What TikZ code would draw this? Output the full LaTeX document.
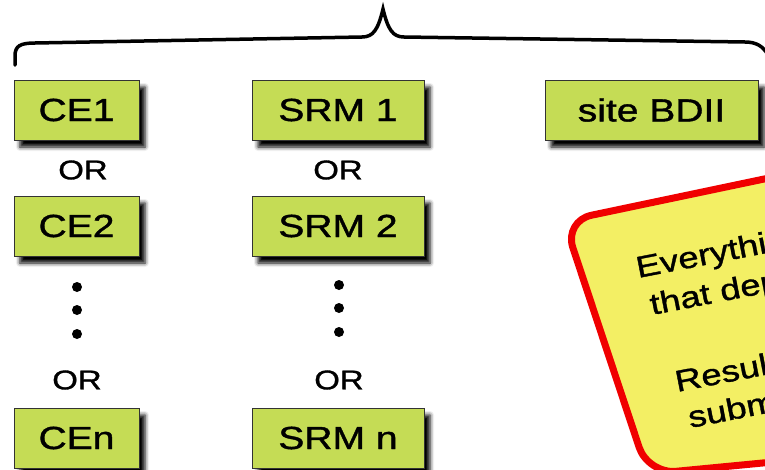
\documentclass[tikz,border=0pt]{standalone}
\usepackage{fontspec}
\setmainfont{Liberation Sans}[FakeStretch=1.22, FakeBold=1.2]
\usetikzlibrary{shadows.blur}

\definecolor{boxgreen}{RGB}{197,220,85}
\definecolor{noteyellow}{RGB}{243,239,100}
\definecolor{notered}{RGB}{240,0,0}

\tikzset{
  sitebox/.style={draw=black!80, line width=1pt, fill=boxgreen, minimum height=60pt, inner sep=0pt,
    font=\fontsize{32}{36}\selectfont,
    blur shadow={shadow xshift=6pt, shadow yshift=-7pt, shadow blur radius=4pt, shadow opacity=100}},
  orlabel/.style={font=\fontsize{27}{30}\selectfont, inner sep=0pt},
  notetext/.style={font=\fontsize{30}{34}\selectfont, rotate=11, anchor=base west, inner sep=0pt}
}

\begin{document}
\begin{tikzpicture}[x=1pt, y=-1pt]
\useasboundingbox (0,0) rectangle (765,469);
\clip (0,0) rectangle (765,469);

% brace over the site services
\draw [line width=3.5pt, line cap=round] (15,65) -- (15,56) .. controls (15,46) and (20,43) .. (35,43)
  -- (362,37) .. controls (373,37) and (378,30) .. (383,9) .. controls (388,30) and (393,37) .. (404,37)
  -- (745,42) .. controls (756,42) and (763,46) .. (768,55);

% CE column
\node [sitebox, minimum width=125pt] (ce1) at (76.5,110) {CE1};
\node [orlabel] (orce1) at (83,170) {OR};
\node [sitebox, minimum width=125pt] (ce2) at (76.5,226) {CE2};
\foreach \y in {287,310,334} \fill (77,\y) circle (5pt);
\node [orlabel] (orce2) at (77,380) {OR};
\node [sitebox, minimum width=125pt] (cen) at (76.5,438) {CEn};

% SRM column
\node [sitebox, minimum width=172pt] (srm1) at (338,110) {SRM 1};
\node [orlabel] (orsrm1) at (338,170) {OR};
\node [sitebox, minimum width=172pt] (srm2) at (338,226) {SRM 2};
\foreach \y in {285,308,332} \fill (339,\y) circle (5pt);
\node [orlabel] (orsrm2) at (339,380) {OR};
\node [sitebox, minimum width=172pt] (srmn) at (338,438) {SRM n};

\node [sitebox, minimum width=213pt] (bdii) at (651.5,110) {site BDII};

% note
\draw [notered, line width=7pt, fill=noteyellow, rounded corners=28pt]
  (564,221) -- (950,140) -- (950,445) -- (648,474) -- cycle;
\node [notetext] (every) at (638,278) {Everything};
\node [notetext] (depends) at (652,315) {that depends};
\node [notetext] (result) at (677,392) {Results};
\node [notetext] (submit) at (690,428) {submitted};
\end{tikzpicture}
\end{document}
